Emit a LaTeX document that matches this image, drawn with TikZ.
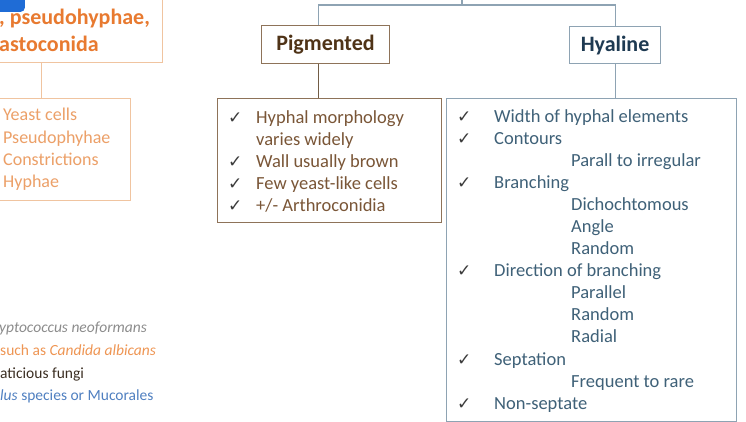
\documentclass[tikz,border=0pt]{standalone}
\usepackage{xcolor}
\usepackage{fontspec}
\setmainfont{Carlito}
\newfontfamily\symfont{DejaVu Sans}
\usepackage{tikz}
\usetikzlibrary{positioning}
\definecolor{tagblue}{RGB}{31,108,214}
\definecolor{orgline}{RGB}{240,196,160}
\definecolor{orgtitle}{RGB}{232,122,48}
\definecolor{orgtext}{RGB}{236,160,104}
\definecolor{pigline}{RGB}{142,115,89}
\definecolor{pigtitle}{RGB}{79,51,23}
\definecolor{pigtext}{RGB}{122,86,55}
\definecolor{hyline}{RGB}{142,163,179}
\definecolor{hytitle}{RGB}{30,58,82}
\definecolor{hytext}{RGB}{63,97,120}
\definecolor{chkgray}{RGB}{60,60,60}
\definecolor{leggray}{RGB}{140,140,140}
\definecolor{legorg}{RGB}{238,149,83}
\definecolor{legdark}{RGB}{59,46,34}
\definecolor{legblue}{RGB}{79,127,192}
\newcommand{\chk}[1]{\makebox[#1][l]{{\symfont\fontsize{17}{17}\selectfont\color{chkgray}✓}}}
\newcommand{\sub}{\hspace{77pt}}

\begin{document}
\begin{tikzpicture}[
    x=1pt, y=-1pt,
    box/.style={draw, line width=1.1pt, fill=white, inner sep=0pt},
    head/.style={box, font=\fontsize{22}{26}\selectfont\bfseries},
    list/.style={anchor=base west, inner sep=0pt, font=\fontsize{18.5}{22}\selectfont},
    legend/.style={anchor=base west, inner sep=0pt, font=\fontsize{15.5}{18}\selectfont},
    link/.style={line width=1.1pt}
]
    \useasboundingbox (0,0) rectangle (746,422);

    % left column (cut off by the page edge)
    \node[box, draw=orgline, minimum width=200, minimum height=110, anchor=south east] (orghead) at (163,63) {};
    \node[fill=tagblue, rounded corners=4pt, minimum width=50, minimum height=30, anchor=south east] (tag) at (25,12) {};
    \node[anchor=base west, inner sep=0pt, text=orgtitle,
          font=\fontsize{22}{27}\selectfont\bfseries] (orgheadtext) at (-1,25) {\begin{tabular}[t]{@{}l@{}}
        , pseudohyphae,\\
        astoconida
    \end{tabular}};
    \node[box, draw=orgline, minimum width=178, minimum height=102, anchor=north east] (orglist) at (131,98) {};
    \node[list, text=orgtext, font=\fontsize{18}{22.3}\selectfont] (orglisttext) at (3,121) {\begin{tabular}[t]{@{}l@{}}
        Yeast cells\\
        Pseudophyhae\\
        Constrictions\\
        Hyphae
    \end{tabular}};
    \draw[link, orgline] (orglist.north |- orghead.south) -- (orglist.north);

    % pigmented
    \node[head, draw=pigline, text=pigtitle, minimum width=128, minimum height=38, anchor=north west] (pig) at (261,25) {Pigmented};
    \node[box, draw=pigline, minimum width=224, minimum height=124, anchor=north west] (piglist) at (217,98) {};
    \node[list, text=pigtext] (piglisttext) at (228,124) {\begin{tabular}[t]{@{}l@{}}
        \chk{28pt}Hyphal morphology\\
        \hspace{28pt}varies widely\\
        \chk{28pt}Wall usually brown\\
        \chk{28pt}Few yeast-like cells\\
        \chk{28pt}+/- Arthroconidia
    \end{tabular}};

    % hyaline
    \node[head, draw=hyline, text=hytitle, minimum width=91, minimum height=37, anchor=north west] (hyal) at (569,26) {Hyaline};
    \node[box, draw=hyline, minimum width=290, minimum height=323, anchor=north west] (hyallist) at (446,98) {};
    \node[list, text=hytext] (hyallisttext) at (457,123) {\begin{tabular}[t]{@{}l@{}}
        \chk{37pt}Width of hyphal elements\\
        \chk{37pt}Contours\\
        \hspace{37pt}\sub Parall to irregular\\
        \chk{37pt}Branching\\
        \hspace{37pt}\sub Dichochtomous\\
        \hspace{37pt}\sub Angle\\
        \hspace{37pt}\sub Random\\
        \chk{37pt}Direction of branching\\
        \hspace{37pt}\sub Parallel\\
        \hspace{37pt}\sub Random\\
        \hspace{37pt}\sub Radial\\
        \chk{37pt}Septation\\
        \hspace{37pt}\sub Frequent to rare\\
        \chk{37pt}Non-septate
    \end{tabular}};

    % tree connectors
    \coordinate (hub) at (462,5);
    \coordinate (hubtop) at (462,-4);
    \draw[link, hyline] (hubtop) -- (hub);
    \draw[link, hyline] ([xshift=-7pt]pig.north) |- (hub) -| (hyal.north);
    \draw[link, pigtitle!80] ([xshift=-7pt]pig.south) -- ([xshift=-11pt]piglist.north);
    \draw[link, hyline] (hyal.south) -- (hyal.south |- hyallist.north);

    % legend (cut off by the page edge)
    \node[legend, text=leggray] (leg1) at (-1,332) {\itshape yptococcus neoformans};
    \node[legend, text=legorg] (leg2) at (0,355) {such as \textit{Candida albicans}};
    \node[legend, text=legdark] (leg3) at (0,378) {aticious fungi};
    \node[legend, text=legblue] (leg4) at (0,400) {\textit{lus} species or Mucorales};
\end{tikzpicture}
\end{document}
